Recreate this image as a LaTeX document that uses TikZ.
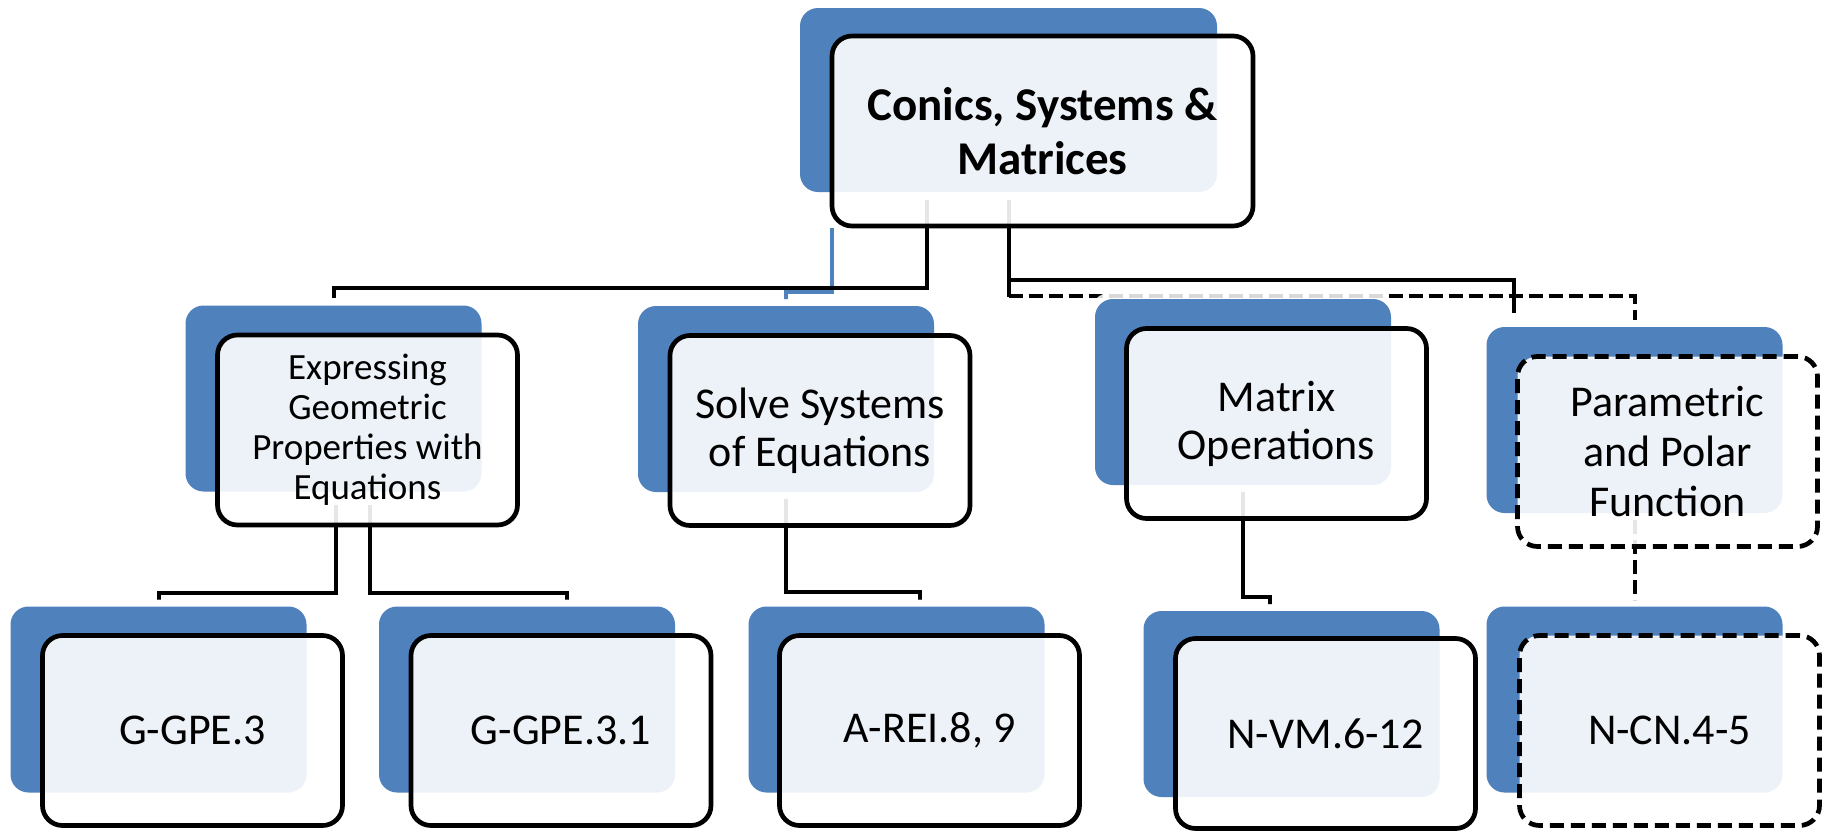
\documentclass[tikz,border=0pt]{standalone}
\usepackage{fontspec}
\setmainfont{Carlito}
\definecolor{sblue}{HTML}{4F81BD}
\pgfdeclarelayer{back}
\pgfsetlayers{back,main}
\begin{document}
\begin{tikzpicture}[x=1pt,y=-1pt,
  bluerect/.style={fill=sblue, rounded corners=18pt, minimum width=296pt, minimum height=186pt, inner sep=0pt,
    preaction={draw=white, draw opacity=0.85, line width=14pt}},
  topbox/.style={draw=black, line width=4.7pt, fill=white, fill opacity=0.9, text opacity=1,
    rounded corners=20pt, minimum width=300pt, minimum height=190pt, inner sep=0pt, align=center,
    font=\fontsize{44}{48}\selectfont},
  dashbox/.style={topbox, dash pattern=on 14pt off 7pt},
  conn/.style={draw=black, line width=4pt},
  bconn/.style={draw=sblue, line width=4pt},
  dconn/.style={conn, dash pattern=on 14pt off 6pt}
]
\useasboundingbox (0,0) rectangle (1830,830);

% blue back shapes
\node[bluerect, minimum width=417pt, minimum height=184pt] (rootb) at (1008.5,100) {};
\node[bluerect] (expb) at (333.5,398.5) {};
\node[bluerect] (solveb) at (786,399) {};
\node[bluerect] (matb) at (1243,392) {};
\node[bluerect] (parb) at (1634.5,420) {};
\node[bluerect] (g3b) at (158.5,699.5) {};
\node[bluerect] (g31b) at (527,699.5) {};
\node[bluerect] (areib) at (896.5,699.5) {};
\node[bluerect] (nvmb) at (1291.5,704) {};
\node[bluerect] (ncnb) at (1634.5,699.5) {};

% front boxes
\node[topbox, minimum width=421pt, font=\bfseries\fontsize{47}{54}\selectfont] (root) at (1042.5,131) {Conics, Systems \&\\Matrices};
\node[topbox, font=\fontsize{37}{40}\selectfont] (exp) at (367.5,430) {Expressing\\Geometric\\Properties with\\Equations};
\node[topbox] (solve) at (820,430.5) {Solve Systems\\of Equations};
\node[topbox] (mat) at (1276.5,423.5) {Matrix\\Operations};
\node[dashbox, font=\fontsize{44}{50}\selectfont] (par) at (1667.5,451.5) {Parametric\\and Polar\\Function};
\node[topbox] (g3) at (192.5,730.5) {G-GPE.3};
\node[topbox] (g31) at (561,730.5) {G-GPE.3.1};
\node[topbox] (arei) at (929.5,730.5) {A-REI.8, 9};
\node[topbox] (nvm) at (1325.5,733.5) {N-VM.6-12};
\node[dashbox] (ncn) at (1669.5,730.5) {N-CN.4-5};

% connectors
\begin{pgfonlayer}{back}
\draw[bconn] ([xshift=2pt]root.south west) -- ++(0,64) -| ([yshift=6pt]solveb.north);
\draw[dconn] ([yshift=-104pt]rootb.south) -| ([yshift=7pt]parb.north);
\draw[conn] ([xshift=-81.5pt,yshift=-8pt]rootb.south) -- ++(0,88) -| ([yshift=7pt]expb.north);
\draw[conn] ([yshift=-8pt]rootb.south) -- ++(0,97);
\draw[conn] ([yshift=-8pt]rootb.south) -- ++(0,80) -| ([xshift=-120.5pt,yshift=14pt]parb.north);
\draw[conn] ([xshift=2.5pt,yshift=-13pt]expb.south) -- ++(0,88) -| ([yshift=6pt]g3b.north);
\draw[conn] ([xshift=36.5pt,yshift=-13pt]expb.south) -- ++(0,88) -| ([xshift=40pt,yshift=6pt]g31b.north);
\draw[conn] ([yshift=-6pt]solveb.south) -- ++(0,94) -| ([xshift=23.5pt,yshift=6pt]areib.north);
\draw[conn] ([yshift=-5pt]matb.south) -- ++(0,107) -| ([xshift=-21.5pt,yshift=6pt]nvmb.north);
\draw[dconn] ([yshift=-7pt]parb.south) -- ([yshift=6pt]ncnb.north);
\end{pgfonlayer}
\end{tikzpicture}
\end{document}
